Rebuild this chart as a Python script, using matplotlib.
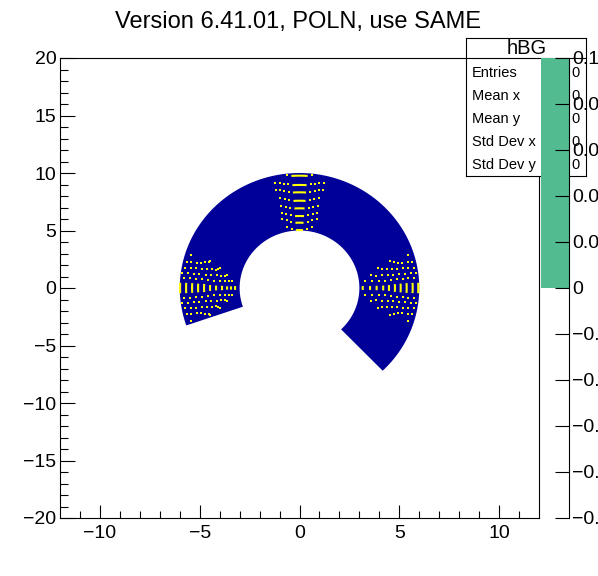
import numpy as np
import matplotlib
matplotlib.use("Agg")
import matplotlib.pyplot as plt
from matplotlib.patches import Polygon

plt.rcParams['font.family'] = ['Liberation Sans', 'DejaVu Sans']

W, H = 598, 576

# polar histogram geometry (outer half-axes in data units, angle span in degrees)
outer_rx, outer_ry = 6.0, 10.0
rho_min, rho_max = 0.5, 1.0
phi_start, phi_end = -46.0, 199.0

# yellow moire bands: apex radius (fraction of outer radius) and bar half-length (px)
left_rho = [0.997, 0.947, 0.897, 0.847, 0.797, 0.747, 0.697, 0.647, 0.605, 0.572, 0.538]
left_len = [5.3, 5.3, 5.0, 4.5, 4.2, 3.0, 2.5, 2.3, 1.7, 1.7, 2.0]
right_rho = [0.528, 0.589, 0.644, 0.699, 0.747, 0.797, 0.845, 0.895, 0.945, 0.992]
right_len = [2.0, 2.0, 2.3, 2.5, 3.0, 4.0, 4.5, 5.0, 5.3, 5.3]
top_rho = [0.977, 0.896, 0.832, 0.759, 0.693, 0.626, 0.568, 0.504]
top_len = [8.0, 7.0, 6.5, 6.0, 5.0, 4.5, 4.0, 3.5]

# stats box
stat_names = ["Entries", "Mean x", "Mean y", "Std Dev x", "Std Dev y"]
stat_values = ["0", "0", "0", "0", "0"]

# palette axis
z_ticks = [0.1, 0.08, 0.06, 0.04, 0.02, 0, -0.02, -0.04, -0.06, -0.08, -0.1]
z_labels = ["0.1", "0.08", "0.06", "0.04", "0.02", "0", "\u22120.02", "\u22120.04",
            "\u22120.06", "\u22120.08", "\u22120.1"]
z_fill = (0.0, 0.1)


def fx(x):
    return x / W


def fy(y):
    return 1 - y / H


def pol(rho, phi):
    return outer_rx * rho * np.cos(phi), outer_ry * rho * np.sin(phi)


fig = plt.figure(figsize=(W / 100, H / 100), dpi=100)
ax = fig.add_axes([fx(60), fy(518), fx(539) - fx(60), fy(58) - fy(518)])
ax.set_xlim(-12, 12)
ax.set_ylim(-20, 20)

# annulus sector
phi = np.radians(np.linspace(phi_start, phi_end, 300))
ox, oy = pol(rho_max, phi)
ix, iy = pol(rho_min, phi[::-1])
verts = np.column_stack([np.concatenate([ox, ix]), np.concatenate([oy, iy])])
ax.add_patch(Polygon(verts, closed=True, facecolor="#000099", edgecolor="none"))

px_per_rho = 118.0
lo, hi = np.radians(phi_start), np.radians(phi_end)


def band(rho0, half_px, phi0, k, reach, gap):
    # solid bar at the apex
    dh = half_px / (px_per_rho * rho0)
    t = np.linspace(phi0 - dh, phi0 + dh, 10)
    x, y = pol(np.full_like(t, rho0), t)
    ax.plot(x, y, color="#ffff00", lw=1.5, solid_capstyle="butt")
    # dotted wings
    step = gap / (px_per_rho * rho0)
    d = np.arange(dh + step, reach, step)
    for s in (1, -1):
        t = phi0 + s * d
        r = rho0 + k * d ** 2
        keep = (r <= 0.99) & (t >= lo) & (t <= hi)
        x, y = pol(r[keep], t[keep])
        ax.plot(x, y, "s", color="#ffff00", ms=1.7, mew=0)


for r, l in zip(left_rho, left_len):
    band(r, l, np.pi, 2.2, 0.32, 4.8)
for r, l in zip(right_rho, right_len):
    band(r, l, 0.0, 2.2, 0.32, 4.8)
for r, l in zip(top_rho, top_len):
    band(r, l, np.pi / 2, 0.9, 0.24, 4.0)

ax.set_xticks([-10, -5, 0, 5, 10])
ax.set_xticks(np.arange(-11, 12, 1), minor=True)
ax.set_yticks(np.arange(-20, 21, 5))
ax.set_yticks(np.arange(-20, 21, 1), minor=True)
ax.tick_params(which="both", direction="in", width=0.8, labelsize=14, colors="black")
ax.tick_params(axis="x", which="major", length=9.5, pad=5)
ax.tick_params(axis="x", which="minor", length=5)
ax.tick_params(axis="y", which="major", length=11, pad=2.5)
ax.tick_params(axis="y", which="minor", length=5.5)
for sp in ax.spines.values():
    sp.set_linewidth(0.8)

fig.text(fx(298), fy(28), "Version 6.41.01, POLN, use SAME", ha="center", va="baseline",
         fontsize=17)

# stats box
sb = fig.add_axes([fx(466), fy(176), fx(586) - fx(466), fy(38) - fy(176)])
sb.set_xticks([])
sb.set_yticks([])
for sp in sb.spines.values():
    sp.set_linewidth(0.8)
sb.set_zorder(5)
fig.add_artist(plt.Line2D([fx(466), fx(586)], [fy(58), fy(58)], color="black", lw=0.8,
                          zorder=6))
fig.text(fx(527), fy(48), "hBG", ha="center", va="center", fontsize=14.5, zorder=7)
for i, (n, v) in enumerate(zip(stat_names, stat_values)):
    yy = 73 + i * 23
    fig.text(fx(472), fy(yy), n, ha="left", va="center", fontsize=10.5, zorder=7)
    fig.text(fx(571), fy(yy), v, ha="left", va="center", fontsize=10.5, zorder=7)

# palette
cb = fig.add_axes([fx(541), fy(518), fx(569) - fx(541), fy(58) - fy(518)])
cb.set_zorder(8)
cb.patch.set_alpha(0)
cb.set_ylim(-0.1, 0.1)
cb.set_xlim(0, 1)
cb.bar(0.5, z_fill[1] - z_fill[0], bottom=z_fill[0], width=1, color="#52bb8f")
for s in ("left", "top", "bottom"):
    cb.spines[s].set_visible(False)
cb.spines["right"].set_linewidth(0.8)
cb.set_xticks([])
cb.yaxis.tick_right()
cb.set_yticks(z_ticks)
cb.set_yticklabels(z_labels)
cb.tick_params(axis="y", direction="in", length=10, width=0.8, pad=2, labelsize=14)

fig.savefig("out.png", dpi=100)
